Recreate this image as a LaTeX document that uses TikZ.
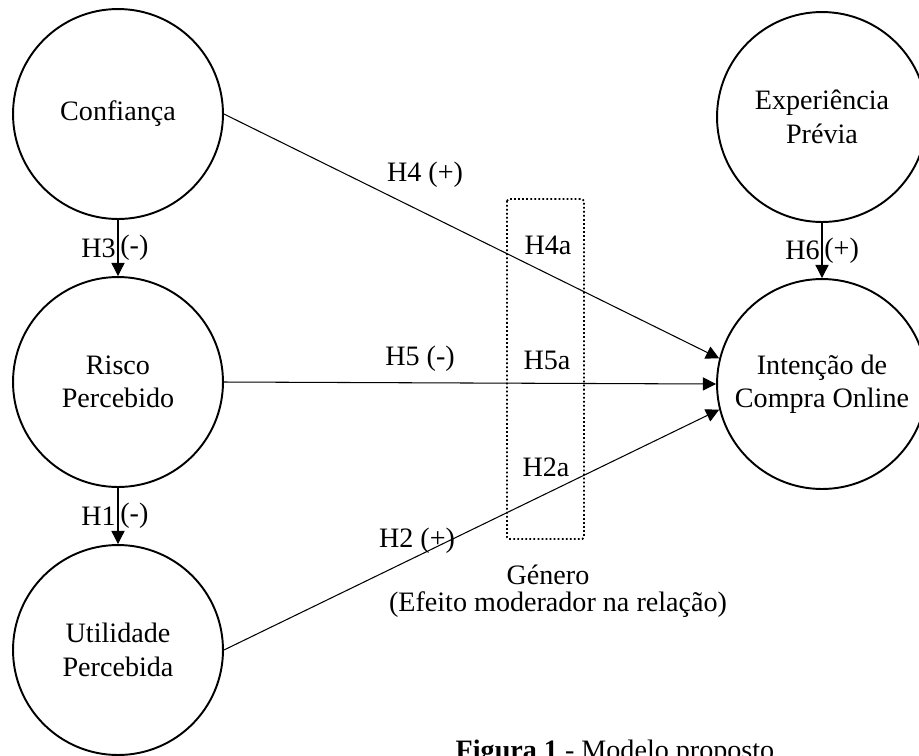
\documentclass[tikz,border=0pt]{standalone}
\usepackage{fontspec}
\setmainfont{Liberation Serif}
\usetikzlibrary{arrows.meta,positioning}
\tikzset{
  >={Triangle[length=7.5pt,width=7.5pt]},
  construto/.style={circle, draw=black, line width=1.1pt, minimum size=4.2cm, inner sep=0pt,
                    align=center, font=\fontsize{16}{19}\selectfont},
  seta/.style={draw, ->, line width=0.6pt},
  rotulo/.style={font=\fontsize{16}{19}\selectfont, inner sep=1pt},
  moderador/.style={draw, line width=1pt, dash pattern=on 1pt off 1.3pt, rounded corners=1pt}
}

\begin{document}
\begin{tikzpicture}[x=0.02cm,y=-0.02cm]
    \useasboundingbox (0,0) rectangle (919,755);
    % Constructs
    \node[construto] (conf) at (118,114) {Confiança};
    \node[construto] (risco) at (118,382) {Risco\\Percebido};
    \node[construto] (util) at (118,650) {Utilidade\\Percebida};
    \node[construto] (exp) at (822,117) {Experiência\\Prévia};
    \node[construto] (int) at (822,384) {Intenção de\\Compra Online};
    % Moderator box
    \draw[moderador] (507,199) rectangle (584,539);
    \node[rotulo] (h4a) at (548,245) {H4a};
    \node[rotulo] (h5a) at (547,360) {H5a};
    \node[rotulo] (h2a) at (546,467) {H2a};
    \node[rotulo] (genero) at (548,575) {Género};
    \node[rotulo] (efeito) at (558,605) {(Efeito moderador na relação)};
    % Paths
    \draw[seta] (conf.south) -- (risco.north)
        node[rotulo, midway, left] {H3} node[rotulo, midway, right] {(-)};
    \draw[seta] (risco.south) -- (util.north)
        node[rotulo, midway, left] {H1} node[rotulo, midway, right] {(-)};
    \draw[seta] (exp.south) -- (int.north)
        node[rotulo, midway, left] {H6} node[rotulo, midway, right] {(+)};
    \draw[seta] (conf.east) -- (int.166);
    \draw[seta] (risco.east) -- (int.west);
    \draw[seta] (util.east) -- (int.194);
    \node[rotulo] (h4) at (425,175) {H4 (+)};
    \node[rotulo] (h5) at (420,359) {H5 (-)};
    \node[rotulo] (h2) at (417,541) {H2 (+)};
    % Caption
    \node[rotulo] (legenda) at (615,753) {\textbf{Figura 1} - Modelo proposto};
\end{tikzpicture}
\end{document}
